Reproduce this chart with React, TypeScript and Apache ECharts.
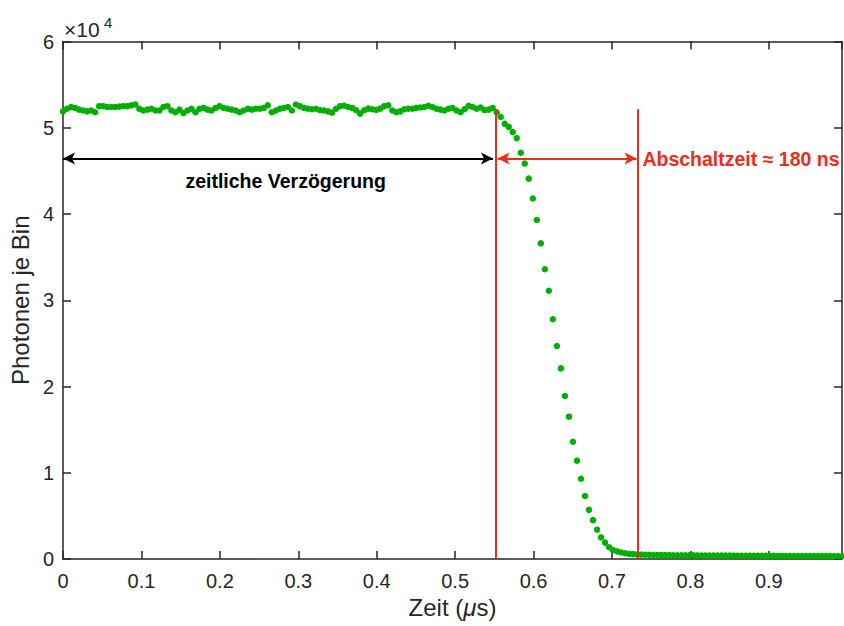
import React, { useEffect, useRef } from 'react';
import * as echarts from 'echarts';

// ---- data (photon counts per bin) ----
const binWidthUs = 0.00512; // time per bin in µs
const plateau = [
  51900, 52200, 52400, 52300, 52100, 52000, 51900, 52000, 51800, 52500,
  52500, 52400, 52400, 52400, 52450, 52500, 52500, 52600, 52700, 52200,
  52000, 52100, 52200, 52000, 52000, 52400, 52500, 52000, 51800, 52100,
  51700, 52000, 52200, 51800, 52200, 52300, 52100, 52000, 52300, 52500,
  52300, 52200, 52100, 52000, 51800, 52000, 52200, 52100, 52200, 52200,
  52300, 52600, 51800, 52000, 52200, 52300, 52400, 52000, 52700, 52500,
  52300, 52200, 52150, 52200, 52050, 52000, 51900, 51750, 52200, 52500,
  52550, 52400, 52300, 52030, 51640, 52030, 52220, 52140, 52070, 52220,
  52500, 52600, 52000, 51800, 51900, 52150, 52200, 52200, 52300, 52350,
  52400, 52550, 52400, 52200, 52100, 52000, 52200, 52300, 52000, 51800,
  52150, 52550, 52400, 52200, 52350, 52050, 52100, 52300,
];
const fall = [
  51800, 51250, 50450, 50100, 49500, 48800, 47100, 45850, 44100, 41800,
  39300, 36600, 33600, 31100, 27800, 24700, 22100, 18900, 16500, 13600,
  11400, 9300, 7300, 5700, 4500, 3400, 2500, 1900,
];
const tail = [
  1360, 1050, 880, 750, 660, 600, 560, 530, 510, 490,
  480, 470, 460, 455, 450, 445, 440, 435, 430, 425,
  420, 418, 415, 410, 405, 402, 400, 398, 395, 390,
  388, 385, 382, 380, 378, 375, 372, 370, 368, 365,
  362, 360, 358, 355, 352, 350, 348, 346, 344, 342,
  340, 338, 336, 334, 332, 330, 328, 326, 324,
];
const xMax = 0.9933;
const yMax = 60000;
const yStep = 10000;
const xStep = 0.1;

// annotation anchors (data coordinates)
const delayEndUs = 0.5512;
const switchOffEndUs = 0.7324;
const markerTop = 52150;
const arrowLevel = 46430;
const delayTextPos = [0.2839, 43800];
const delayText = 'zeitliche Verzögerung';
const switchOffText = 'Abschaltzeit ≈ 180 ns';
const xName = 'Zeit ({mu|μ}s)';
const yName = 'Photonen je Bin';

const counts = [...plateau, ...fall, ...tail];
const points = counts.map((c, i) => [i * binWidthUs, c]);

const axisColor = '#262626';
const green = '#00b000';
const red = '#ee2c1c';
const font = '"Liberation Sans", Arial, Helvetica, sans-serif';

export default function App() {
  const ref = useRef<HTMLDivElement>(null);
  useEffect(() => {
    if (!ref.current) return;
    const chart = echarts.init(ref.current, null, { renderer: 'svg' });
    const axisLine = { show: true, onZero: false, lineStyle: { color: axisColor, width: 1.5 } };
    const axisTick = { show: true, inside: true, length: 8, lineStyle: { color: axisColor, width: 1.5 } };
    const arrowEnd = (coord: number[]) => ({
      coord,
      symbol: 'arrow',
      symbolSize: [9, 12],
    });
    const option: any = {
      animation: false,
      grid: { left: 62, right: 2, top: 41.5, bottom: 67 },
      xAxis: [
        {
          type: 'value', min: 0, max: xMax, interval: xStep, position: 'bottom',
          axisLine, axisTick, splitLine: { show: false },
          axisLabel: {
            color: axisColor, fontSize: 20, fontFamily: font, margin: 12,
            showMaxLabel: false,
            formatter: (v: number) => (v === 0 ? '0' : v.toFixed(1)),
          },
          name: xName, nameLocation: 'middle', nameGap: 36,
          nameTextStyle: {
            color: axisColor, fontSize: 24, fontFamily: font,
            rich: { mu: { color: axisColor, fontSize: 24, fontFamily: font, fontStyle: 'italic' } },
          },
        },
        {
          type: 'value', min: 0, max: xMax, interval: xStep, position: 'top',
          axisLine, axisTick, splitLine: { show: false }, axisLabel: { show: false },
        },
      ],
      yAxis: [
        {
          type: 'value', min: 0, max: yMax, interval: yStep, position: 'left',
          axisLine, axisTick, splitLine: { show: false },
          axisLabel: {
            color: axisColor, fontSize: 20, fontFamily: font, margin: 9,
            formatter: (v: number) => String(v / 10000),
          },
          name: yName, nameLocation: 'middle', nameGap: 26,
          nameTextStyle: { color: axisColor, fontSize: 24, fontFamily: font },
        },
        {
          type: 'value', min: 0, max: yMax, interval: yStep, position: 'right',
          axisLine, axisTick, splitLine: { show: false }, axisLabel: { show: false },
        },
      ],
      series: [
        {
          type: 'scatter',
          data: points,
          symbolSize: 6.5,
          itemStyle: { color: green, opacity: 1 },
          emphasis: { disabled: true },
          silent: true,
          markLine: {
            silent: true,
            animation: false,
            symbol: ['none', 'none'],
            label: { show: false },
            lineStyle: { type: 'solid', width: 2, color: red },
            data: [
              [{ coord: [delayEndUs, 0] }, { coord: [delayEndUs, markerTop] }],
              [{ coord: [switchOffEndUs, 0] }, { coord: [switchOffEndUs, markerTop] }],
              [
                { ...arrowEnd([0, arrowLevel]), lineStyle: { color: '#000000', width: 2, type: 'solid' } },
                { ...arrowEnd([delayEndUs - 0.003, arrowLevel]), lineStyle: { color: '#000000', width: 2, type: 'solid' } },
              ],
              [
                { ...arrowEnd([delayEndUs + 0.003, arrowLevel]), lineStyle: { color: red, width: 2, type: 'solid' } },
                { ...arrowEnd([switchOffEndUs - 0.001, arrowLevel]), lineStyle: { color: red, width: 2, type: 'solid' } },
              ],
            ],
          },
        },
      ],
    };
    chart.setOption(option);

    const [dx, dy] = chart.convertToPixel({ xAxisIndex: 0, yAxisIndex: 0 }, delayTextPos) as number[];
    const [ox, oy] = chart.convertToPixel({ xAxisIndex: 0, yAxisIndex: 0 }, [switchOffEndUs, arrowLevel]) as number[];
    const [gx, gy] = chart.convertToPixel({ xAxisIndex: 0, yAxisIndex: 0 }, [0, yMax]) as number[];
    chart.setOption({
      graphic: [
        {
          type: 'text', x: dx, y: dy, silent: true,
          style: { text: delayText, fill: '#000000', fontSize: 19.5, fontWeight: 'bold', fontFamily: font, align: 'center', verticalAlign: 'middle' },
        },
        {
          type: 'text', x: ox + 5, y: oy, silent: true,
          style: { text: switchOffText, fill: red, fontSize: 19.5, fontWeight: 'bold', fontFamily: font, align: 'left', verticalAlign: 'middle' },
        },
        {
          type: 'text', x: gx + 1, y: gy - 2, silent: true,
          style: { text: '×10', fill: axisColor, fontSize: 21, fontFamily: font, align: 'left', verticalAlign: 'bottom' },
        },
        {
          type: 'text', x: gx + 41, y: gy - 12, silent: true,
          style: { text: '4', fill: axisColor, fontSize: 15, fontFamily: font, align: 'left', verticalAlign: 'bottom' },
        },
      ],
    });
    return () => chart.dispose();
  }, []);
  return (
    <div
      ref={ref}
      style={{ position: 'fixed', left: 0, top: 0, width: 844, height: 626, background: '#ffffff' }}
    />
  );
}
